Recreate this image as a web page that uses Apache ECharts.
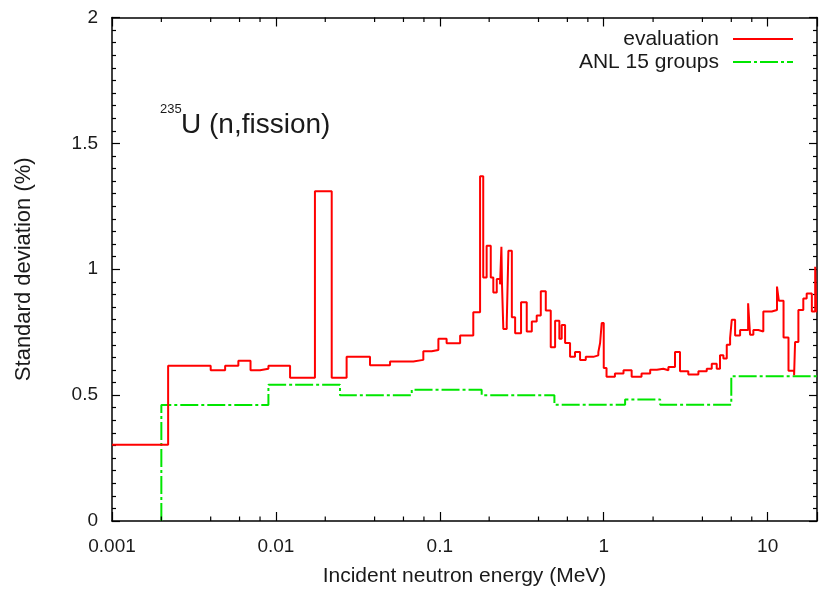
<!DOCTYPE html>
<html><head><meta charset="utf-8">
<script src="https://cdn.jsdelivr.net/npm/echarts@6/dist/echarts.min.js"></script>
<style>html,body{margin:0;padding:0;background:#fff}#c{width:823px;height:592px}</style>
</head><body><div id="c"></div>
<script>
// Evaluation (step: value holds from this energy to the next)
const evalEnergy = [0.001, 0.0022, 0.0040, 0.0049, 0.0059, 0.0070, 0.0080, 0.0090, 0.0122, 0.0173, 0.0219, 0.0270, 0.0375, 0.0497, 0.0689, 0.0793, 0.0892, 0.098, 0.110, 0.133, 0.160, 0.176, 0.184, 0.193, 0.2045, 0.212, 0.2225, 0.233, 0.2375, 0.2395, 0.244, 0.256, 0.262, 0.275, 0.288, 0.313, 0.339, 0.364, 0.390, 0.413, 0.443, 0.475, 0.505, 0.536, 0.554, 0.581, 0.623, 0.668, 0.717, 0.777, 0.864, 0.927, 0.95, 0.972, 1.0, 1.04, 1.17, 1.32, 1.48, 1.70, 1.92, 2.11, 2.31, 2.48, 2.72, 2.92, 3.28, 3.78, 4.25, 4.56, 4.89, 5.12, 5.37, 5.63, 5.90, 6.04, 6.33, 6.79, 7.6, 7.81, 8.18, 8.77, 9.41, 10.6, 11.4, 11.7, 12.5, 13.4, 14.5, 14.7, 15.4, 16.5, 17.3, 18.6, 19.5, 19.8, 20];
const evalValue = [0.303, 0.617, 0.599, 0.617, 0.637, 0.599, 0.605, 0.617, 0.569, 1.31, 0.569, 0.652, 0.619, 0.634, 0.640, 0.674, 0.679, 0.724, 0.706, 0.737, 0.829, 1.369, 0.967, 1.093, 0.967, 0.908, 0.961, 0.94, 1.089, 0.94, 0.763, 0.786, 1.073, 0.809, 0.746, 0.869, 0.753, 0.792, 0.816, 0.913, 0.836, 0.690, 0.795, 0.724, 0.779, 0.707, 0.652, 0.671, 0.640, 0.652, 0.658, 0.671, 0.707, 0.786, 0.608, 0.573, 0.586, 0.599, 0.573, 0.586, 0.601, 0.605, 0.599, 0.612, 0.671, 0.595, 0.582, 0.595, 0.605, 0.625, 0.605, 0.658, 0.645, 0.700, 0.727, 0.799, 0.737, 0.759, 0.865, 0.740, 0.759, 0.753, 0.832, 0.838, 0.931, 0.875, 0.729, 0.597, 0.579, 0.711, 0.838, 0.884, 0.904, 0.832, 1.010, 0.832, 0.832];

// ANL 15 groups
const anlEnergy = [0.002, 0.002, 0.009, 0.0246, 0.0674, 0.180, 0.5, 1.35, 2.21, 6.0, 20];
const anlValue = [0, 0.461, 0.541, 0.500, 0.521, 0.500, 0.462, 0.483, 0.462, 0.575, 0.575];

const seriesNames = ['evaluation', 'ANL 15 groups'];
const xTickLabels = ['0.001', '0.01', '0.1', '1', '10'];
const xMinorTicks = [0.002, 0.004, 0.006, 0.008, 0.02, 0.04, 0.06, 0.08, 0.2, 0.4, 0.6, 0.8, 2, 4, 6, 8];
const yTickLabels = ['0', '0.5', '1', '1.5', '2'];

const FONT = 'Liberation Sans, Arial, sans-serif';
const TXT = '#1a1a1a';
const RED = '#ff0000';
const GREEN = '#00e600';

const chart = echarts.init(document.getElementById('c'), null, {renderer: 'canvas'});

function fmtX(v) {
  const p = Math.log10(v);
  const r = Math.round(p);
  if (Math.abs(p - r) > 1e-6) return '';
  const idx = r + 3;
  return (idx >= 0 && idx < xTickLabels.length) ? xTickLabels[idx] : '';
}
function fmtY(v) {
  const idx = Math.round(v / 0.5);
  return (Math.abs(v / 0.5 - idx) < 1e-6 && yTickLabels[idx] !== undefined) ? yTickLabels[idx] : '';
}

const axisLine = {show: true, onZero: false, lineStyle: {color: '#000', width: 1.5}};

chart.setOption({
  animation: false,
  backgroundColor: '#fff',
  grid: {left: 112, right: 6, top: 17.5, bottom: 68, containLabel: false},
  legend: {
    data: seriesNames,
    orient: 'vertical',
    align: 'right',
    right: 24,
    top: 23,
    itemWidth: 60,
    itemHeight: 14,
    itemGap: 1,
    itemStyle: {opacity: 0},
    textStyle: {fontSize: 21, lineHeight: 22, fontFamily: FONT, color: TXT, padding: [0, 9, 0, 0]}
  },
  xAxis: [{
    type: 'log', min: 0.001, max: 20, logBase: 10,
    position: 'bottom',
    name: 'Incident neutron energy (MeV)', nameLocation: 'middle', nameGap: 45,
    nameTextStyle: {fontSize: 21, fontFamily: FONT, color: TXT},
    axisLine: axisLine,
    axisTick: {show: true, inside: true, length: 9, lineStyle: {color: '#000', width: 1.2}},
    minorTick: {show: false},
    axisLabel: {formatter: fmtX, margin: 16, fontSize: 19, fontFamily: FONT, color: TXT, showMaxLabel: true, showMinLabel: true, hideOverlap: false},
    splitLine: {show: false}
  }, {
    type: 'log', min: 0.001, max: 20, logBase: 10,
    position: 'top',
    axisLine: axisLine,
    axisTick: {show: true, inside: true, length: 9, lineStyle: {color: '#000', width: 1.2}},
    axisLabel: {show: false},
    splitLine: {show: false}
  }],
  yAxis: [{
    type: 'value', min: 0, max: 2, interval: 0.5,
    position: 'left',
    name: 'Standard deviation (%)', nameLocation: 'middle', nameGap: 77,
    nameTextStyle: {fontSize: 22, fontFamily: FONT, color: TXT},
    axisLine: axisLine,
    axisTick: {show: true, inside: true, length: 8, lineStyle: {color: '#000', width: 1.2}},
    minorTick: {show: true, splitNumber: 10, length: 4, lineStyle: {color: '#000', width: 1.2}},
    axisLabel: {formatter: fmtY, margin: 14, fontSize: 19, fontFamily: FONT, color: TXT},
    splitLine: {show: false}
  }, {
    type: 'value', min: 0, max: 2, interval: 0.5,
    position: 'right',
    axisLine: axisLine,
    axisTick: {show: true, inside: true, length: 8, lineStyle: {color: '#000', width: 1.2}},
    minorTick: {show: true, splitNumber: 10, length: 4, lineStyle: {color: '#000', width: 1.2}},
    axisLabel: {show: false},
    splitLine: {show: false}
  }],
  graphic: [
    {type: 'text', left: 160, top: 103, style: {text: '235', fontSize: 13, fontFamily: FONT, fill: TXT}},
    {type: 'text', left: 181, top: 111, style: {text: 'U (n,fission)', fontSize: 28, fontFamily: FONT, fill: TXT}}
  ],
  series: [
    {
      name: 'evaluation', type: 'line', step: 'end', symbol: 'none',
      xAxisIndex: 0, yAxisIndex: 0,
      data: evalEnergy.map((e, i) => [e, evalValue[i]]),
      lineStyle: {color: RED, width: 2},
      itemStyle: {color: RED},
      z: 3
    },
    {
      name: 'ANL 15 groups', type: 'line', step: 'end', symbol: 'none',
      xAxisIndex: 0, yAxisIndex: 0,
      data: anlEnergy.map((e, i) => [e, anlValue[i]]),
      lineStyle: {color: GREEN, width: 2, type: [18, 3, 3, 3]},
      itemStyle: {color: GREEN},
      z: 2
    },
    {
      name: 'minorTicks', type: 'custom', silent: true,
      xAxisIndex: 0, yAxisIndex: 0,
      data: xMinorTicks.map(v => [v]),
      renderItem: function (params, api) {
        const b = api.coord([api.value(0), 0]);
        const t = api.coord([api.value(0), 2]);
        return {type: 'group', children: [
          {type: 'line', shape: {x1: b[0], y1: b[1], x2: b[0], y2: b[1] - 4.5}, style: {stroke: '#000', lineWidth: 1.2}},
          {type: 'line', shape: {x1: t[0], y1: t[1], x2: t[0], y2: t[1] + 4.5}, style: {stroke: '#000', lineWidth: 1.2}}
        ]};
      },
      z: 4
    }
  ]
});
</script>
</body></html>
